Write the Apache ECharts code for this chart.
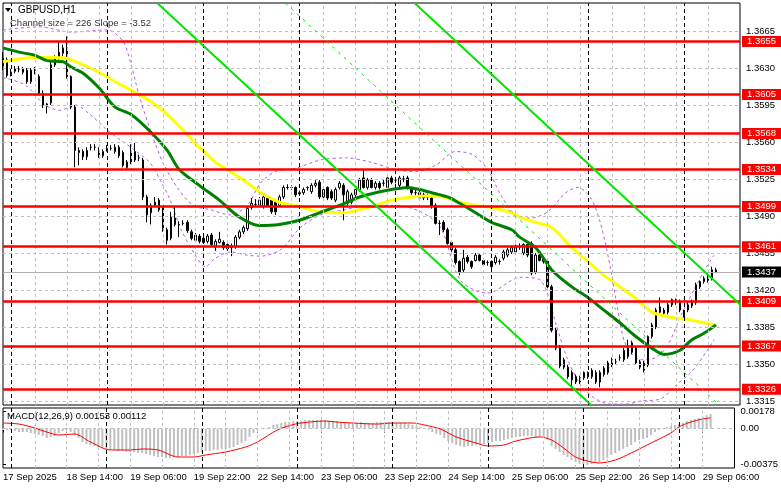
<!DOCTYPE html>
<html><head><meta charset="utf-8">
<script src="https://cdn.jsdelivr.net/npm/echarts@6/dist/echarts.min.js"></script>
<style>html,body{margin:0;padding:0;background:#fff}#c{width:781px;height:489px}</style>
</head><body><div id="c"></div>
<script>
const FONT = '"Liberation Sans", Arial, sans-serif';
const slotCount = 185;
const xTickEvery = 16;
const xTickLabels = ['17 Sep 2025','18 Sep 14:00','19 Sep 06:00','19 Sep 22:00','22 Sep 14:00','23 Sep 06:00','23 Sep 22:00','24 Sep 14:00','25 Sep 06:00','25 Sep 22:00','26 Sep 14:00','29 Sep 06:00'];
const daySeparators = [2,26,50,74,98,122,146,170];
const gridEvery = 8;
const priceTicks = [1.3315,1.3350,1.3385,1.3420,1.3455,1.3490,1.3525,1.3560,1.3595,1.3630,1.3665];
const priceMin = 1.33112, priceMax = 1.36915;
const levels = [1.3655,1.3605,1.3568,1.3534,1.3499,1.3461,1.3409,1.3367,1.3326];
const lastPrice = 1.3437;

const open = [
1.3639,1.3638,1.3626,1.3627,1.3629,1.3626,1.3628,1.3617,1.3628,1.3622,
1.3606,1.3596,1.3597,1.3633,1.3639,1.3644,1.3649,1.3622,1.3593,1.3550,
1.3551,1.3546,1.3555,1.3555,1.3552,1.3547,1.3554,1.3554,1.3551,1.3555,
1.3550,1.3541,1.3541,1.3543,1.3545,1.3543,1.3508,1.3493,1.3500,1.3505,
1.3498,1.3477,1.3469,1.3488,1.3482,1.3483,1.3484,1.3475,1.3467,1.3471,
1.3469,1.3466,1.3472,1.3461,1.3465,1.3465,1.3463,1.3460,1.3461,1.3470,
1.3475,1.3478,1.3498,1.3501,1.3500,1.3499,1.3507,1.3505,1.3503,1.3500,
1.3508,1.3517,1.3517,1.3517,1.3512,1.3512,1.3517,1.3513,1.3519,1.3522,
1.3508,1.3517,1.3513,1.3505,1.3517,1.3519,1.3502,1.3503,1.3510,1.3515,
1.3526,1.3517,1.3524,1.3517,1.3521,1.3521,1.3517,1.3526,1.3524,1.3519,
1.3525,1.3526,1.3517,1.3512,1.3512,1.3510,1.3508,1.3507,1.3500,1.3483,
1.3484,1.3477,1.3465,1.3458,1.3447,1.3439,1.3451,1.3447,1.3448,1.3453,
1.3448,1.3446,1.3447,1.3446,1.3447,1.3450,1.3453,1.3456,1.3456,1.3461,
1.3455,1.3463,1.3464,1.3437,1.3453,1.3450,1.3447,1.3423,1.3382,1.3365,
1.3354,1.3347,1.3342,1.3338,1.3333,1.3337,1.3338,1.3338,1.3342,1.3333,
1.3340,1.3342,1.3349,1.3352,1.3356,1.3354,1.3365,1.3361,1.3365,1.3352,
1.3351,1.3349,1.3376,1.3385,1.3399,1.3401,1.3399,1.3406,1.3408,1.3409,
1.3394,1.3401,1.3405,1.3408,1.3423,1.3428,1.3429,1.3431,1.3439];
const close = [
1.3632,1.3623,1.3626,1.3629,1.3629,1.3629,1.3617,1.3628,1.3628,1.3606,
1.3595,1.3594,1.3633,1.3640,1.3645,1.3649,1.3622,1.3593,1.3552,1.3552,
1.3546,1.3552,1.3555,1.3555,1.3548,1.3551,1.3554,1.3554,1.3555,1.3547,
1.3538,1.3536,1.3551,1.3551,1.3545,1.3508,1.3491,1.3500,1.3503,1.3496,
1.3477,1.3467,1.3489,1.3482,1.3482,1.3483,1.3476,1.3469,1.3472,1.3466,
1.3465,1.3471,1.3463,1.3466,1.3468,1.3460,1.3459,1.3462,1.3470,1.3475,
1.3479,1.3497,1.3502,1.3501,1.3505,1.3508,1.3500,1.3494,1.3494,1.3508,
1.3517,1.3517,1.3517,1.3510,1.3511,1.3515,1.3517,1.3519,1.3521,1.3508,
1.3515,1.3507,1.3507,1.3515,1.3521,1.3510,1.3513,1.3510,1.3515,1.3524,
1.3517,1.3524,1.3517,1.3521,1.3517,1.3521,1.3526,1.3522,1.3524,1.3526,
1.3525,1.3517,1.3512,1.3512,1.3507,1.3507,1.3508,1.3499,1.3483,1.3483,
1.3477,1.3464,1.3458,1.3446,1.3437,1.3450,1.3447,1.3442,1.3453,1.3448,
1.3444,1.3446,1.3442,1.3451,1.3447,1.3456,1.3458,1.3460,1.3461,1.3461,
1.3463,1.3453,1.3436,1.3453,1.3448,1.3447,1.3423,1.3382,1.3365,1.3348,
1.3347,1.3338,1.3335,1.3333,1.3337,1.3342,1.3342,1.3344,1.3333,1.3342,
1.3346,1.3351,1.3354,1.3352,1.3356,1.3363,1.3357,1.3370,1.3351,1.3347,
1.3344,1.3376,1.3387,1.3401,1.3404,1.3398,1.3406,1.3411,1.3411,1.3401,
1.3399,1.3406,1.3409,1.3425,1.3428,1.3431,1.3434,1.3439,1.3437];
const high = [
1.3645,1.3640,1.3630,1.3632,1.3632,1.3631,1.3630,1.3630,1.3631,1.3624,
1.3609,1.3597,1.3636,1.3642,1.3655,1.3652,1.3660,1.3623,1.3595,1.3555,
1.3553,1.3555,1.3558,1.3558,1.3555,1.3553,1.3557,1.3557,1.3558,1.3557,
1.3552,1.3543,1.3558,1.3559,1.3548,1.3545,1.3510,1.3502,1.3508,1.3507,
1.3499,1.3479,1.3494,1.3499,1.3485,1.3486,1.3486,1.3477,1.3474,1.3473,
1.3471,1.3473,1.3474,1.3468,1.3475,1.3467,1.3464,1.3464,1.3472,1.3477,
1.3481,1.3499,1.3507,1.3506,1.3508,1.3510,1.3509,1.3507,1.3505,1.3510,
1.3519,1.3520,1.3519,1.3518,1.3514,1.3517,1.3518,1.3521,1.3524,1.3524,
1.3517,1.3518,1.3515,1.3517,1.3523,1.3521,1.3515,1.3512,1.3517,1.3526,
1.3534,1.3526,1.3526,1.3523,1.3523,1.3524,1.3528,1.3528,1.3527,1.3528,
1.3528,1.3528,1.3518,1.3515,1.3514,1.3512,1.3511,1.3509,1.3502,1.3486,
1.3486,1.3479,1.3467,1.3460,1.3448,1.3458,1.3453,1.3448,1.3455,1.3455,
1.3450,1.3448,1.3448,1.3453,1.3449,1.3458,1.3460,1.3462,1.3463,1.3464,
1.3464,1.3464,1.3466,1.3455,1.3455,1.3452,1.3448,1.3425,1.3385,1.3368,
1.3356,1.3349,1.3344,1.3340,1.3339,1.3343,1.3343,1.3346,1.3344,1.3344,
1.3348,1.3353,1.3356,1.3355,1.3359,1.3365,1.3373,1.3372,1.3367,1.3354,
1.3353,1.3377,1.3389,1.3403,1.3413,1.3403,1.3408,1.3412,1.3412,1.3411,
1.3401,1.3408,1.3411,1.3427,1.3429,1.3433,1.3436,1.3442,1.3441];
const low = [
1.3628,1.3621,1.3622,1.3625,1.3626,1.3624,1.3615,1.3615,1.3624,1.3604,
1.3592,1.3587,1.3595,1.3631,1.3638,1.3641,1.3620,1.3591,1.3536,1.3538,
1.3543,1.3543,1.3552,1.3552,1.3545,1.3545,1.3551,1.3552,1.3549,1.3545,
1.3536,1.3534,1.3539,1.3541,1.3542,1.3505,1.3484,1.3482,1.3499,1.3494,
1.3475,1.3463,1.3467,1.3480,1.3470,1.3481,1.3474,1.3467,1.3465,1.3464,
1.3464,1.3464,1.3461,1.3457,1.3464,1.3458,1.3457,1.3452,1.3459,1.3468,
1.3473,1.3476,1.3496,1.3499,1.3499,1.3497,1.3499,1.3492,1.3491,1.3499,
1.3506,1.3515,1.3515,1.3508,1.3509,1.3510,1.3514,1.3511,1.3517,1.3506,
1.3506,1.3505,1.3505,1.3503,1.3515,1.3486,1.3500,1.3501,1.3508,1.3513,
1.3516,1.3515,1.3516,1.3515,1.3515,1.3518,1.3516,1.3520,1.3521,1.3517,
1.3522,1.3515,1.3510,1.3509,1.3505,1.3505,1.3505,1.3497,1.3482,1.3472,
1.3475,1.3463,1.3456,1.3444,1.3434,1.3437,1.3445,1.3440,1.3447,1.3447,
1.3442,1.3443,1.3440,1.3444,1.3444,1.3448,1.3451,1.3454,1.3454,1.3458,
1.3453,1.3451,1.3434,1.3435,1.3447,1.3445,1.3421,1.3380,1.3363,1.3346,
1.3345,1.3336,1.3325,1.3331,1.3331,1.3335,1.3336,1.3336,1.3331,1.3328,
1.3338,1.3340,1.3347,1.3349,1.3353,1.3352,1.3355,1.3359,1.3349,1.3345,
1.3342,1.3347,1.3374,1.3383,1.3397,1.3396,1.3397,1.3404,1.3406,1.3399,
1.3393,1.3399,1.3403,1.3406,1.3421,1.3426,1.3427,1.3429,1.3436];

const maYellow = [[0,1.3636],[8,1.3640],[12,1.3640],[16,1.3639],[20,1.3633],[24,1.3626],[28,1.3617],[32,1.3609],[37,1.3598],[41,1.3586],[45,1.3571],[49,1.3555],[53,1.3541],[56,1.3534],[60,1.3524],[64,1.3513],[69,1.3503],[74,1.3499],[79,1.3494],[85,1.3493],[89,1.3496],[93,1.3500],[97,1.3505],[102,1.3508],[106,1.3509],[110,1.3508],[114,1.3503],[118,1.3500],[122,1.3498],[127,1.3493],[129,1.3489],[133,1.3484],[137,1.3479],[142,1.3460],[146,1.3447],[150,1.3434],[154,1.3423],[158,1.3412],[162,1.3399],[167,1.3394],[171,1.3392],[175,1.3389],[178,1.3387]];
const maGreen = [[0,1.3649],[4,1.3645],[8,1.3642],[11,1.3637],[15,1.3636],[17,1.3631],[20,1.3625],[24,1.3611],[28,1.3593],[32,1.3586],[37,1.3569],[41,1.3552],[44,1.3534],[49,1.3519],[54,1.3505],[59,1.3489],[64,1.3481],[69,1.3482],[74,1.3486],[79,1.3493],[84,1.3500],[89,1.3508],[93,1.3512],[97,1.3515],[101,1.3517],[104,1.3515],[107,1.3512],[111,1.3508],[114,1.3502],[118,1.3493],[122,1.3484],[127,1.3477],[129,1.3470],[133,1.3460],[137,1.3439],[142,1.3423],[146,1.3413],[150,1.3401],[154,1.3389],[158,1.3376],[162,1.3365],[165,1.3359],[169,1.3363],[172,1.3373],[175,1.3379],[178,1.3387]];
const bandUpper = [[0,1.3666],[9,1.3669],[17,1.3664],[26,1.3666],[30,1.3655],[32,1.3633],[34,1.3604],[37,1.3569],[40,1.3540],[43.5,1.3517],[47.5,1.3500],[51.75,1.3496],[56.75,1.3491],[61,1.3500],[64.25,1.3521],[68,1.3532],[73,1.3535],[79.25,1.3543],[85.5,1.3545],[91.75,1.3541],[98,1.3534],[103,1.3532],[108,1.3538],[113,1.3551],[117.25,1.3548],[121,1.3534],[124.25,1.3510],[128,1.3491],[131.75,1.3488],[136,1.3494],[140.5,1.3512],[143.5,1.3517],[146.75,1.3507],[149.25,1.3482],[151.75,1.3439],[153.5,1.3401],[155.5,1.3368],[159.25,1.3354],[163,1.3356],[166,1.3368],[169.25,1.3396],[172.5,1.3420],[175.5,1.3441],[177.5,1.3453]];
const bandLower = [[0,1.3621],[5.5,1.3614],[10.5,1.3595],[14.25,1.3590],[18,1.3595],[21.75,1.3586],[25.5,1.3573],[29.25,1.3562],[33,1.3552],[36.75,1.3540],[39.25,1.3524],[41.75,1.3505],[44.25,1.3479],[48,1.3453],[50.5,1.3442],[53,1.3450],[56.75,1.3456],[61,1.3453],[64.25,1.3452],[69.25,1.3458],[74.25,1.3479],[79.25,1.3491],[85.5,1.3496],[91.75,1.3500],[98,1.3500],[104.25,1.3494],[109.25,1.3479],[114.25,1.3429],[121,1.3417],[129.25,1.3432],[134.25,1.3429],[138.5,1.3382],[141,1.3354],[144.25,1.3330],[148,1.3317],[151.75,1.3312],[155.5,1.3312],[159.25,1.3315],[164.25,1.3317],[168,1.3330],[171.75,1.3342],[175.5,1.3361],[177.5,1.3373]];
const channelLower = [[38.5,1.36915],[150,1.33001]];
const channelMiddle = [[70.5,1.36915],[181,1.33036]];
const channelUpper = [[102.75,1.36915],[190,1.33853]];

const macdHist = [
-0.00016,-0.00016,-0.00016,-0.00026,-0.00037,-0.00037,-0.00037,-0.00047,-0.00058,-0.00068,-0.00079,-0.00100,-0.00089,-0.00079,-0.00047,-0.00026,
-0.00016,-0.00037,-0.00068,-0.00100,-0.00142,-0.00163,-0.00174,-0.00184,-0.00195,-0.00205,-0.00216,-0.00226,-0.00226,-0.00237,-0.00237,-0.00247,
-0.00247,-0.00247,-0.00258,-0.00258,-0.00268,-0.00279,-0.00289,-0.00300,-0.00300,-0.00311,-0.00311,-0.00300,-0.00300,-0.00289,-0.00289,-0.00279,
-0.00268,-0.00258,-0.00247,-0.00237,-0.00237,-0.00226,-0.00226,-0.00216,-0.00216,-0.00205,-0.00195,-0.00174,-0.00153,-0.00132,-0.00089,-0.00047,
-0.00016,-0.00005,0.00005,0.00016,0.00037,0.00047,0.00058,0.00068,0.00068,0.00079,0.00079,0.00079,0.00089,0.00089,0.00089,0.00089,
0.00089,0.00089,0.00079,0.00079,0.00079,0.00068,0.00068,0.00058,0.00058,0.00058,0.00068,0.00058,0.00058,0.00058,0.00068,0.00068,
0.00068,0.00068,0.00068,0.00058,0.00058,0.00058,0.00047,0.00037,0.00026,0.00016,0.00005,-0.00016,-0.00037,-0.00058,-0.00068,-0.00100,
-0.00132,-0.00153,-0.00174,-0.00184,-0.00195,-0.00184,-0.00184,-0.00174,-0.00174,-0.00163,-0.00153,-0.00142,-0.00132,-0.00132,-0.00121,-0.00111,
-0.00100,-0.00089,-0.00089,-0.00079,-0.00079,-0.00079,-0.00089,-0.00089,-0.00100,-0.00121,-0.00184,-0.00216,-0.00247,-0.00279,-0.00300,-0.00332,
-0.00353,-0.00374,-0.00374,-0.00384,-0.00374,-0.00363,-0.00353,-0.00332,-0.00311,-0.00279,-0.00258,-0.00237,-0.00216,-0.00195,-0.00174,-0.00142,
-0.00121,-0.00111,-0.00100,-0.00068,-0.00037,-0.00016,0.00005,0.00016,0.00026,0.00037,0.00047,0.00058,0.00079,0.00089,0.00100,0.00111,
0.00125,0.00140,0.00153];
const macdSignal = [[0,0.00058],[4,0.00047],[8,0.00005],[11,-0.00037],[14,-0.00068],[18,-0.00058],[22,-0.00142],[27,-0.00226],[32,-0.00226],[35,-0.00216],[39,-0.00226],[44,-0.00300],[48,-0.00300],[51,-0.00279],[56,-0.00247],[61,-0.00195],[64,-0.00142],[69,-0.00016],[73.5,0.00047],[77,0.00068],[81,0.00079],[84,0.00068],[88,0.00058],[94,0.00047],[98,0.00058],[103,0.00058],[106,0.00037],[110,-0.00005],[114,-0.00089],[119,-0.00153],[122,-0.00184],[126,-0.00174],[129,-0.00132],[135,-0.00089],[138,-0.00121],[141,-0.00205],[144,-0.00300],[148,-0.00353],[150,-0.00363],[154,-0.00332],[158,-0.00258],[162,-0.00174],[168,-0.00047],[170,0.00016],[173,0.00068],[176,0.00100],[178,0.00112]];
const macdTicks = [0.00178, 0, -0.00375];
const macdMin = -0.00416, macdMax = 0.00216;
const macdTitle = 'MACD(12,26,9) 0.00153 0.00112';
const symbolTitle = 'GBPUSD,H1';
const channelText = 'Channel size = 226 Slope = -3.52';

const cats = Array.from({length: slotCount}, (_, i) => String(i));
const candles = open.map((o, i) => [o, close[i], low[i], high[i]]);

function vLines() {
  const out = [];
  for (let i = gridEvery; i < slotCount - 1; i += gridEvery) {
    out.push({xAxis: i, lineStyle: {color: '#c0c0c0', type: [3, 3], width: 1}});
  }
  daySeparators.forEach(d => out.push({xAxis: d, lineStyle: {color: '#000', type: [4, 3], width: 1}}));
  return out;
}
const hGrid = priceTicks.map(v => ({yAxis: v, lineStyle: {color: '#c0c0c0', type: [3, 3], width: 1}}));

const chart = echarts.init(document.getElementById('c'), null, {renderer: 'canvas'});
const lineBase = {type: 'line', symbol: 'none', silent: true, xAxisIndex: 1, yAxisIndex: 0, clip: true};
const option = {
  animation: false,
  backgroundColor: '#fff',
  textStyle: {fontFamily: FONT},
  grid: [
    {left: 3, top: 3, width: 737, height: 402, show: true, borderColor: '#000', borderWidth: 1, backgroundColor: 'transparent'},
    {left: 3, top: 408, width: 737, height: 60, show: true, borderColor: '#000', borderWidth: 1, backgroundColor: 'transparent'}
  ],
  xAxis: [
    {type: 'category', gridIndex: 0, data: cats, boundaryGap: false, show: false},
    {type: 'value', gridIndex: 0, min: 0, max: slotCount - 1, show: false},
    {type: 'category', gridIndex: 1, data: cats, boundaryGap: false,
      axisLine: {show: false},
      axisTick: {show: true, interval: (i) => i % xTickEvery === 0, length: 4, lineStyle: {color: '#000'}},
      axisLabel: {show: true, interval: (i) => i % xTickEvery === 0,
        formatter: (v, i) => xTickLabels[Math.round(i / xTickEvery)] || '',
        align: 'left', margin: 4, fontSize: 9.5, color: '#000', fontFamily: FONT},
      splitLine: {show: false}},
    {type: 'value', gridIndex: 1, min: 0, max: slotCount - 1, show: false}
  ],
  yAxis: [
    {type: 'value', gridIndex: 0, position: 'right', min: priceMin, max: priceMax, scale: true,
      axisLine: {show: false},
      axisTick: {show: true, customValues: priceTicks, length: 3, lineStyle: {color: '#000'}},
      axisLabel: {show: true, customValues: priceTicks, formatter: v => v.toFixed(4), fontSize: 9.5, color: '#000', margin: 6, fontFamily: FONT},
      splitLine: {show: false}},
    {type: 'value', gridIndex: 1, position: 'right', min: macdMin, max: macdMax,
      axisLine: {show: false},
      axisTick: {show: true, customValues: macdTicks, length: 3, lineStyle: {color: '#000'}},
      axisLabel: {show: true, customValues: macdTicks, formatter: v => (v === 0 ? '0.00' : v.toFixed(5)), fontSize: 9.5, color: '#000', margin: 6, fontFamily: FONT},
      splitLine: {show: false}}
  ],
  series: [
    Object.assign({}, lineBase, {name: 'grid', data: [], z: 1,
      markLine: {silent: true, precision: 6, symbol: ['none', 'none'], label: {show: false}, data: hGrid.concat(vLines()), animation: false}}),
    Object.assign({}, lineBase, {name: 'macdgrid', xAxisIndex: 3, yAxisIndex: 1, data: [], z: 1,
      markLine: {silent: true, precision: 6, symbol: ['none', 'none'], label: {show: false},
        data: [{yAxis: 0, lineStyle: {color: '#c0c0c0', type: [3, 3], width: 1}}].concat(vLines()), animation: false}}),
    Object.assign({}, lineBase, {name: 'bbUp', data: bandUpper, smooth: 0.3, z: 2, lineStyle: {color: '#b45ee0', width: 1, type: [3, 3]}}),
    Object.assign({}, lineBase, {name: 'bbLo', data: bandLower, smooth: 0.3, z: 2, lineStyle: {color: '#b45ee0', width: 1, type: [3, 3]}}),
    {type: 'candlestick', name: 'GBPUSD', xAxisIndex: 0, yAxisIndex: 0, data: candles, barWidth: 2, z: 3, silent: true,
      itemStyle: {color: '#fff', color0: '#000', borderColor: '#000', borderColor0: '#000', borderWidth: 1}},
    Object.assign({}, lineBase, {name: 'maY', data: maYellow, smooth: 0.3, z: 4, lineStyle: {color: '#ffff00', width: 3}}),
    Object.assign({}, lineBase, {name: 'maG', data: maGreen, smooth: 0.3, z: 4, lineStyle: {color: '#008000', width: 3}}),
    Object.assign({}, lineBase, {name: 'chLo', data: channelLower, z: 5, lineStyle: {color: '#00e600', width: 2}}),
    Object.assign({}, lineBase, {name: 'chMid', data: channelMiddle, z: 5, lineStyle: {color: '#00e600', width: 1, type: [3, 5]}}),
    Object.assign({}, lineBase, {name: 'chUp', data: channelUpper, z: 5, lineStyle: {color: '#00e600', width: 2}}),
    Object.assign({}, lineBase, {name: 'levels', data: [], z: 6,
      markLine: {silent: true, precision: 6, symbol: ['none', 'none'], animation: false,
        data: [{yAxis: lastPrice, lineStyle: {color: '#b0b0b0', width: 1, type: 'solid'},
                 label: {backgroundColor: '#000'}}].concat(
              levels.map(v => ({yAxis: v, lineStyle: {color: '#ff0000', width: 2.5, type: 'solid'}}))),
        label: {show: true, position: 'end', distance: 2, formatter: p => Number(p.value).toFixed(4),
          color: '#fff', backgroundColor: '#ff0000', padding: [1, 5, 0, 5], fontSize: 9.5, fontFamily: FONT}}}),
    {type: 'bar', name: 'MACD', xAxisIndex: 2, yAxisIndex: 1, data: macdHist, barWidth: 2, z: 3, silent: true,
      itemStyle: {color: '#c0c0c0'}},
    Object.assign({}, lineBase, {name: 'Signal', xAxisIndex: 3, yAxisIndex: 1, data: macdSignal, smooth: 0.3, z: 4,
      lineStyle: {color: '#ff0000', width: 1}})
  ],
  graphic: [
    {type: 'polygon', shape: {points: [[5, 8], [11, 8], [8, 12]]}, style: {fill: '#000'}, z: 100},
    {type: 'text', left: 18, top: 5, style: {text: symbolTitle, font: '10px ' + FONT, fill: '#000'}, z: 100},
    {type: 'text', left: 10, top: 18, style: {text: channelText, font: '9.5px ' + FONT, fill: '#333'}, z: 100},
    {type: 'text', left: 7, top: 411, style: {text: macdTitle, font: '9.5px ' + FONT, fill: '#000'}, z: 100}
  ]
};
chart.setOption(option);
</script>
</body></html>
